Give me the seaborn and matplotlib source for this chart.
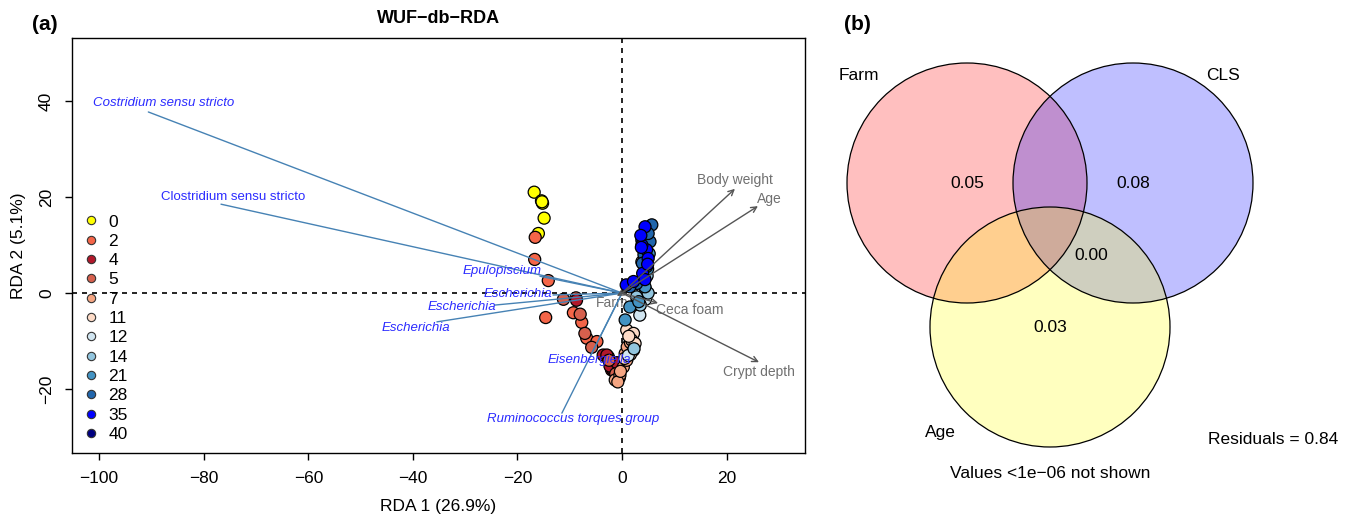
import matplotlib
matplotlib.use("Agg")
from matplotlib import pyplot as plt
from matplotlib.lines import Line2D
from matplotlib.patches import Circle
import pandas as pd
import seaborn as sns

# sample age groups (days) and their colours
ages = [0, 2, 4, 5, 7, 11, 12, 14, 21, 28, 35, 40]
age_colors = ["#FFFF00", "#F46548", "#B2182B", "#D6604D", "#F4A582", "#FDDBC7",
              "#D1E5F0", "#92C5DE", "#4393C3", "#2166AC", "#0000FF", "#000080"]

# site scores (40-day samples first, they sit under the rest)
site_age = ([40] * 1 + [0] * 6 + [2] * 9 + [4] * 8 + [5] * 7 + [7] * 9 + [11] * 9 +
            [12] * 5 + [14] * 6 + [21] * 8 + [28] * 9 + [35] * 11)
site_rda1 = [4.1,
             -16.8, -15.4, -15.2, -14.9, -16.0, -15.3,
             -16.6, -16.7, -14.1, -14.6, -9.3, -7.7, -6.75, -4.8, -8.8,
             -8.7, -3.6, -2.6, -2.0, -2.9, -1.7, -2.3, -1.0,
             -11.2, -8.0, -7.1, -5.8, -1.2, -0.5, -2.5,
             -1.3, -0.4, 0.25, 0.6, 1.0, -0.8, 0.9, 1.6, -0.3,
             0.9, 2.2, 1.85, 2.5, 2.2, 3.8, 1.3, 1.6, 0.5,
             3.4, 4.0, 2.9, 4.5, 1.2,
             2.8, 4.4, 2.3, 5.0, 3.5, 4.8,
             1.5, 0.6, 4.7, 4.1, 4.4, 5.2, 3.2, 4.9,
             5.7, 3.8, 5.35, 4.7, 2.8, 1.5, 4.2, 5.0, 3.9,
             4.4, 4.7, 3.95, 0.8, 2.2, 3.8, 3.6, 5.0, 4.4, 4.9, 3.7]
site_rda2 = [2.4,
             21.0, 19.2, 18.7, 15.6, 12.4, 19.0,
             11.6, 7.0, 2.6, -5.1, -4.1, -6.1, -9.4, -10.1, -1.0,
             -1.5, -12.9, -13.3, -16.0, -12.9, -16.0, -15.2, -14.5,
             -1.3, -4.4, -8.4, -11.3, -16.8, -17.6, -14.0,
             -18.1, -17.1, -15.4, -12.6, -11.2, -18.5, -14.0, -10.3, -16.3,
             -7.7, -8.4, -9.8, -10.5, -11.9, 6.5, -9.0, -12.8, -13.6,
             -4.6, 0.2, -1.6, -1.3, -13.0,
             -0.8, 1.0, -11.6, 0.0, -2.5, 3.6,
             -2.9, -5.6, 6.9, 3.4, 1.3, 8.2, -1.8, 5.0,
             14.2, 11.0, 10.7, 5.5, 2.0, 1.3, 8.0, 12.4, 6.2,
             13.8, 9.0, 4.1, 1.7, 2.4, 10.0, 12.0, 7.2, 2.8, 6.0, 9.5]

# genus (species) scores
sp_names = ["Costridium sensu stricto", "Clostridium sensu stricto", "Epulopiscium",
            "Escherichia", "Escherichia", "Escherichia", "Eisenbergiella",
            "Ruminococcus torques group"]
sp_italic = [True, False, True, True, True, True, True, True]
sp_rda1 = [-90.6, -76.7, -15.7, -13.2, -24.3, -35.4, -6.0, -11.5]
sp_rda2 = [37.7, 18.5, 3.5, -0.4, -2.5, -6.0, -13.0, -25.0]

# environmental vectors
env_names = ["Body weight", "Age", "Crypt depth", "Ceca foam", "Farm"]
env_rda1 = [21.6, 26.0, 26.2, 6.9, -1.0]
env_rda2 = [21.7, 18.1, -14.4, -2.1, -0.6]

# variance partitioning
venn_sets = ["Farm", "CLS", "Age"]
venn_unique = [0.05, 0.08, 0.03]
venn_cls_age = 0.00
residuals = 0.84

sites = pd.DataFrame({"RDA1": site_rda1, "RDA2": site_rda2, "Age": site_age})

sns.set_style("ticks")
plt.rcParams["font.family"] = ["Liberation Sans", "DejaVu Sans"]
plt.rcParams["text.color"] = "black"
plt.rcParams["axes.labelcolor"] = "black"
plt.rcParams["xtick.color"] = "black"
plt.rcParams["ytick.color"] = "black"

W, H = 1354, 519
fig = plt.figure(figsize=(W / 100, H / 100), dpi=100)

# ---------------- (a) db-RDA biplot ----------------
ax = fig.add_axes([72 / W, 66 / H, 733 / W, 415 / H])
ax.axhline(0, color="black", ls=(0, (3, 3)), lw=1.2, zorder=1)
ax.axvline(0, color="black", ls=(0, (3, 3)), lw=1.2, zorder=1)

sns.scatterplot(data=sites, x="RDA1", y="RDA2", hue="Age",
                palette=dict(zip(ages, age_colors)), s=75,
                edgecolor="black", linewidth=0.9, legend=False, ax=ax, zorder=3)

# offsets of species labels from the tips, in points
sp_off = [(11, 6.5), (9, 5), (-27, 4), (-25, 1), (-24, -1.5), (-15, -4.5), (-1, -3), (8, -4)]
for name, it, x, y, off in zip(sp_names, sp_italic, sp_rda1, sp_rda2, sp_off):
    ax.plot([0, x], [0, y], color="#4682B4", lw=1, zorder=4)
    ax.annotate(name, (x, y), xytext=off, textcoords="offset points",
                ha="center", va="center", color="#2B2BFF", fontsize=9.5,
                style="italic" if it else "normal", zorder=5)

env_off = [(0, 6), (8, 5), (0, -7), (23, -5), (-3, -5)]
for name, x, y, off in zip(env_names, env_rda1, env_rda2, env_off):
    ax.annotate("", xy=(x, y), xytext=(0, 0),
                arrowprops=dict(arrowstyle="->", color="#555555", lw=1,
                                shrinkA=0, shrinkB=0, mutation_scale=10),
                zorder=4)
    ax.annotate(name, (x, y), xytext=off, textcoords="offset points",
                ha="center", va="center", color="#707070", fontsize=10, zorder=2)

ax.set_xlim(-105.2, 35)
ax.set_ylim(-33.3, 53.1)
ax.set_xticks([-100, -80, -60, -40, -20, 0, 20])
ax.set_yticks([-20, 0, 20, 40])
for lab in ax.get_yticklabels():
    lab.set_rotation(90)
    lab.set_va("center")
ax.tick_params(direction="out", length=5, width=1, pad=8, labelsize=12.5, colors="black")
for sp in ax.spines.values():
    sp.set_visible(True)
    sp.set_linewidth(1)
    sp.set_color("black")
ax.set_xlabel("RDA 1 (26.9%)", fontsize=12.5, labelpad=9)
ax.set_ylabel("RDA 2 (5.1%)", fontsize=12.5, labelpad=9)
ax.set_title("WUF\u2212db\u2212RDA", fontsize=13, fontweight="bold", pad=11)

handles = [Line2D([], [], marker="o", ls="", markersize=6, markerfacecolor=c,
                  markeredgecolor="#333333", markeredgewidth=0.8) for c in age_colors]
ax.legend(handles, [str(a) for a in ages], loc="upper left",
          bbox_to_anchor=(0.012, 0.575), frameon=False, fontsize=12.5,
          labelspacing=0.24, handletextpad=0.4, handlelength=1.2,
          borderpad=0, borderaxespad=0)

fig.text(45 / W, 1 - 25 / H, "(a)", fontsize=15, fontweight="bold", ha="center", va="center")

# ---------------- (b) Venn diagram ----------------
ax2 = fig.add_axes([830 / W, 0, (W - 830) / W, 1])
ax2.set_xlim(830, W)
ax2.set_ylim(H, 0)
ax2.axis("off")

r = 120
centers = [(967, 183), (1133, 183), (1050, 327)]
fills = [(1, 0, 0, 0.25), (0, 0, 1, 0.25), (1, 1, 0, 0.25)]
for c, fc in zip(centers, fills):
    ax2.add_patch(Circle(c, r, facecolor=fc, edgecolor="none"))
for c in centers:
    ax2.add_patch(Circle(c, r, fill=False, edgecolor="black", lw=0.9))

for (cx, cy), v in zip(centers, venn_unique):
    ax2.text(cx, cy, f"{v:.2f}", ha="center", va="center", fontsize=12.5)
ax2.text(1091, 255, f"{venn_cls_age:.2f}", ha="center", va="center", fontsize=12.5)

for name, pos in zip(venn_sets, [(859, 75), (1223, 75), (940, 432)]):
    ax2.text(pos[0], pos[1], name, ha="center", va="center", fontsize=12.5)
ax2.text(1273, 440, f"Residuals = {residuals:.2f}", ha="center", va="center", fontsize=12.5)
ax2.text(1050, 473, "Values <1e\u221206 not shown", ha="center", va="center", fontsize=12.5)
ax2.text(857, 25, "(b)", ha="center", va="center", fontsize=15, fontweight="bold")

fig.savefig("out.png", dpi=100)
